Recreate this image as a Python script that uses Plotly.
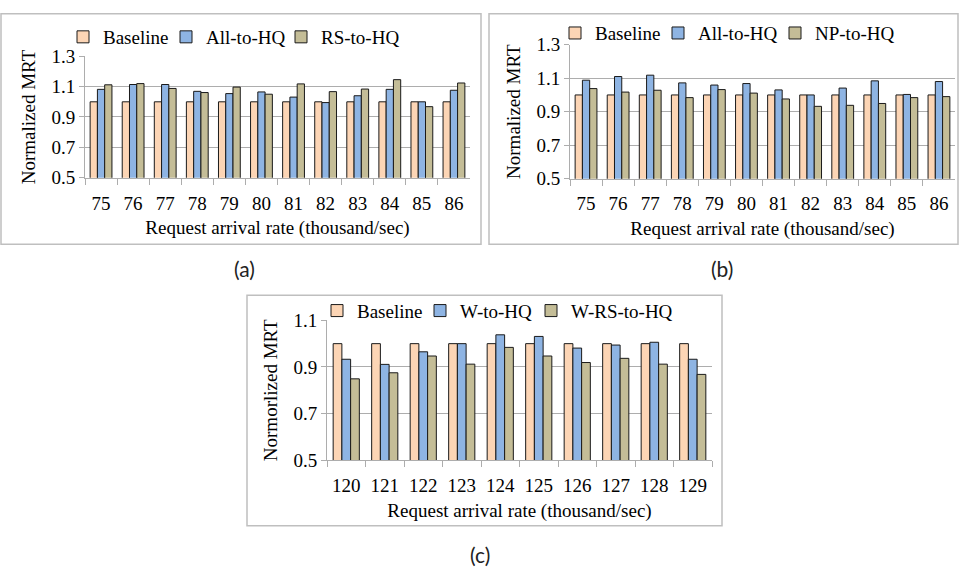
import plotly.graph_objects as go

# ---------------- data ----------------
rates_ab = ["75", "76", "77", "78", "79", "80", "81", "82", "83", "84", "85", "86"]
rates_c = ["120", "121", "122", "123", "124", "125", "126", "127", "128", "129"]

a_baseline = [1.0] * 12
a_all_to_hq = [1.082, 1.114, 1.114, 1.069, 1.054, 1.065, 1.031, 0.995, 1.040, 1.082, 1.0, 1.076]
a_rs_to_hq = [1.112, 1.120, 1.088, 1.061, 1.097, 1.050, 1.118, 1.067, 1.084, 1.146, 0.968, 1.124]

b_baseline = [1.0] * 12
b_all_to_hq = [1.088, 1.110, 1.118, 1.072, 1.059, 1.068, 1.030, 1.0, 1.041, 1.084, 1.003, 1.080]
b_np_to_hq = [1.038, 1.017, 1.028, 0.984, 1.032, 1.011, 0.976, 0.932, 0.938, 0.949, 0.984, 0.990]

c_baseline = [1.0] * 10
c_w_to_hq = [0.933, 0.911, 0.965, 1.0, 1.038, 1.031, 0.981, 0.994, 1.006, 0.933]
c_w_rs_to_hq = [0.849, 0.875, 0.947, 0.912, 0.984, 0.947, 0.919, 0.937, 0.912, 0.868]

names_a = ["Baseline", "All-to-HQ", "RS-to-HQ"]
names_b = ["Baseline", "All-to-HQ", "NP-to-HQ"]
names_c = ["Baseline", "W-to-HQ", "W-RS-to-HQ"]

colors = ["#FCD5B5", "#8EB4E3", "#C4BD97"]

W, H = 960, 581
FONT = "Liberation Serif"
FS = 19
GRID = "#ADADAD"
BORDER = "#BFBFBF"


def px_x(p):
    return p / W


def px_y(p):
    return 1 - p / H


fig = go.Figure()

# legend entry text start (px) and row centre (px) per panel
legend_pos = [
    ([103, 206, 321], 28),
    ([595, 698, 815], 24),
    ([357, 460, 571], 312),
]

panels = [
    ("x", "y", rates_ab, [a_baseline, a_all_to_hq, a_rs_to_hq], names_a),
    ("x2", "y2", rates_ab, [b_baseline, b_all_to_hq, b_np_to_hq], names_b),
    ("x3", "y3", rates_c, [c_baseline, c_w_to_hq, c_w_rs_to_hq], names_c),
]

legend_common = dict(orientation="h", xanchor="left", yanchor="middle", bgcolor="rgba(0,0,0,0)",
                     font=dict(family=FONT, size=FS, color="#000"), itemwidth=30, visible=True)
legend_layout = {}
k = 0
for (xa, ya, cats, series, names), (xs, yrow) in zip(panels, legend_pos):
    for vals, nm, col, xt in zip(series, names, colors, xs):
        k += 1
        lname = "legend" if k == 1 else f"legend{k}"
        fig.add_trace(go.Bar(
            x=cats, y=vals, name=nm, xaxis=xa, yaxis=ya, legend=lname, showlegend=True,
            marker=dict(color=col, line=dict(color="#1a1a1a", width=1)),
        ))
        legend_layout[lname] = dict(x=px_x(xt - 40), y=px_y(yrow), **legend_common)

xcommon = dict(type="category", showgrid=False, showline=True, linecolor=GRID, linewidth=1,
               ticks="outside", tickson="boundaries", ticklen=6, tickcolor=GRID,
               tickfont=dict(family=FONT, size=FS, color="#000"), ticklabelstandoff=8,
               title=dict(text="Request arrival rate (thousand/sec)",
                          font=dict(family=FONT, size=FS, color="#000"), standoff=8))
ycommon = dict(showgrid=True, gridcolor=GRID, gridwidth=1, showline=True, linecolor=GRID,
               linewidth=1, ticks="outside", ticklen=5, tickcolor=GRID, zeroline=False,
               dtick=0.2, tick0=0.5, tickformat=".1f",
               tickfont=dict(family=FONT, size=FS, color="#000"))

fig.update_layout(
    width=W, height=H, margin=dict(l=0, r=0, t=0, b=0),
    paper_bgcolor="white", plot_bgcolor="white", showlegend=True,
    barmode="group", bargap=0.32, bargroupgap=0,
    xaxis=dict(domain=[px_x(85), px_x(470)], anchor="y", **xcommon),
    yaxis=dict(domain=[px_y(174), px_y(48)], anchor="x", range=[0.5, 1.3],
               title=dict(text="Normalized MRT", font=dict(family=FONT, size=FS, color="#000"), standoff=10),
               **ycommon),
    xaxis2=dict(domain=[px_x(570), px_x(955)], anchor="y2", **xcommon),
    yaxis2=dict(domain=[px_y(175), px_y(36)], anchor="x2", range=[0.5, 1.3],
                title=dict(text="Normalized MRT", font=dict(family=FONT, size=FS, color="#000"), standoff=10),
                **ycommon),
    xaxis3=dict(domain=[px_x(327), px_x(712)], anchor="y3", **xcommon),
    yaxis3=dict(domain=[px_y(467), px_y(322)], anchor="x3", range=[0.5, 1.1],
                title=dict(text="Normorlized MRT", font=dict(family=FONT, size=FS, color="#000"), standoff=10),
                **ycommon),
    **legend_layout,
)

# panel borders
for x0, x1, y0, y1 in [(1, 481, 4, 243), (489, 958, 4, 243), (247, 722, 296, 535)]:
    fig.add_shape(type="rect", xref="paper", yref="paper",
                  x0=px_x(x0), x1=px_x(x1), y0=px_y(y1), y1=px_y(y0),
                  line=dict(color=BORDER, width=1.5), fillcolor="rgba(0,0,0,0)")

# sub-figure labels
for txt, x, y in [("(a)", 245, 268), ("(b)", 722, 268), ("(c)", 480, 565)]:
    fig.add_annotation(text=txt, xref="paper", yref="paper", x=px_x(x), y=px_y(y),
                       xanchor="center", yanchor="middle", showarrow=False,
                       font=dict(family="Lato", size=21, color="#222"))

fig.write_html("out.html")
